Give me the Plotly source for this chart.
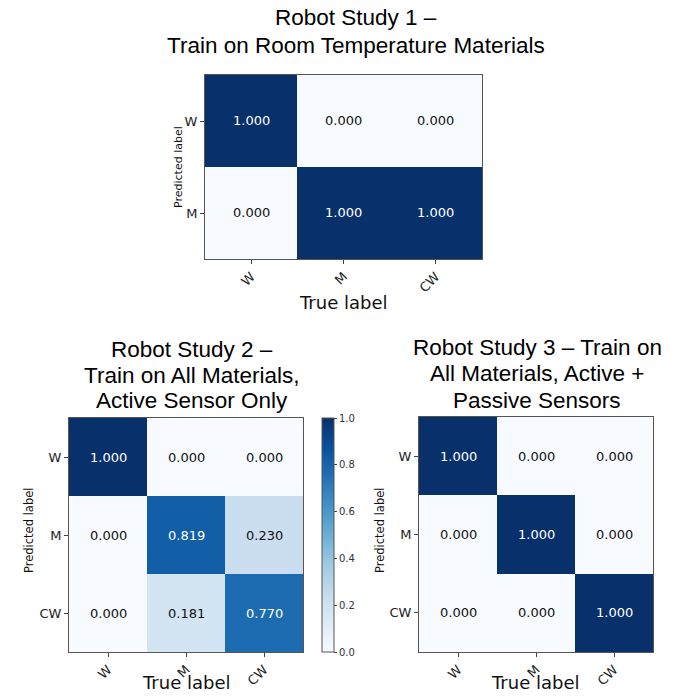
import plotly.graph_objects as go

# ---- data ----
true_labels = ["W", "M", "CW"]
pred_labels_1 = ["W", "M"]
pred_labels_23 = ["W", "M", "CW"]

study1_z = [[1.000, 0.000, 0.000],
            [0.000, 1.000, 1.000]]
study2_z = [[1.000, 0.000, 0.000],
            [0.000, 0.819, 0.230],
            [0.000, 0.181, 0.770]]
study3_z = [[1.000, 0.000, 0.000],
            [0.000, 1.000, 0.000],
            [0.000, 0.000, 1.000]]

title1_lines = ["Robot Study 1 –", "Train on Room Temperature Materials"]
title2_lines = ["Robot Study 2 –", "Train on All Materials,", "Active Sensor Only"]
title3_lines = ["Robot Study 3 – Train on", "All Materials, Active +", "Passive Sensors"]
cbar_ticks = [0.0, 0.2, 0.4, 0.6, 0.8, 1.0]

# ---- styling ----
W, H = 684, 696
blues = ["#f7fbff", "#deebf7", "#c6dbef", "#9ecae1", "#6baed6",
         "#4292c6", "#2171b5", "#08519c", "#08306b"]
cscale = [[i / (len(blues) - 1), c] for i, c in enumerate(blues)]
TFONT = "Liberation Sans, Arial, sans-serif"
DFONT = "DejaVu Sans, sans-serif"

def px(x):
    return x / W

def py(y):
    return 1 - y / H

fig = go.Figure()

panels = [
    # (z, ylabels, xaxis, yaxis, xdom px, ydom px, showscale)
    (study1_z, pred_labels_1, "x", "y", (205, 482), (75, 259), False),
    (study2_z, pred_labels_23, "x2", "y2", (69, 303), (418, 652), True),
    (study3_z, pred_labels_23, "x3", "y3", (419, 653), (417, 652), False),
]

annotations = []
for i, (z, ylab, xa, ya, xd, yd, show) in enumerate(panels):
    tr = go.Heatmap(
        z=z, x=true_labels, y=ylab, xaxis=xa, yaxis=ya,
        colorscale=cscale, zmin=0, zmax=1, showscale=show,
        hoverinfo="skip",
    )
    if show:
        tr.colorbar = dict(
            x=px(322), xanchor="left", xpad=0,
            y=py((418 + 652) / 2), yanchor="middle", ypad=0,
            lenmode="pixels", len=234,
            thicknessmode="pixels", thickness=12,
            tickvals=cbar_ticks, ticktext=[f"{v:.1f}" for v in cbar_ticks],
            ticks="outside", ticklen=3, tickcolor="#444",
            tickfont=dict(family=DFONT, size=10, color="#333"),
            outlinecolor="#555", outlinewidth=1,
        )
    fig.add_trace(tr)
    suffix = "" if i == 0 else str(i + 1)
    axis_common = dict(showline=True, mirror=True, linecolor="#555", linewidth=1,
                       ticks="outside", ticklen=4, tickcolor="#444",
                       showgrid=False, zeroline=False,
                       tickfont=dict(family=DFONT, size=13, color="#222"))
    fig.layout["xaxis" + suffix] = dict(domain=[px(xd[0]), px(xd[1])],
                                        anchor="y" + suffix, tickangle=-45,
                                        **axis_common)
    fig.layout["yaxis" + suffix] = dict(domain=[py(yd[1]), py(yd[0])],
                                        anchor="x" + suffix, autorange="reversed",
                                        **axis_common)
    # cell texts
    for r, row in enumerate(z):
        for c, v in enumerate(row):
            annotations.append(dict(
                x=true_labels[c], y=ylab[r], xref=xa, yref=ya,
                text=f"{v:.3f}", showarrow=False,
                font=dict(family=DFONT, size=13,
                          color="white" if v > 0.5 else "#111"),
            ))

# titles, one annotation per line
for lines, xc, ys in [(title1_lines, 356, [17.5, 45]),
                      (title2_lines, 192, [349.5, 375, 400.5]),
                      (title3_lines, 537, [347.5, 373.5, 400])]:
    for txt, yc in zip(lines, ys):
        annotations.append(dict(x=px(xc), y=py(yc), xref="paper", yref="paper",
                                text=txt, showarrow=False, xanchor="center",
                                yanchor="middle",
                                font=dict(family=TFONT, size=22.5, color="black")))

# axis titles
for xc, yc in [(343, 302), (186, 682), (535, 682)]:
    annotations.append(dict(x=px(xc), y=py(yc), xref="paper", yref="paper",
                            text="True label", showarrow=False,
                            xanchor="center", yanchor="middle",
                            font=dict(family=DFONT, size=18, color="#111")))
for xc, yc, s in [(179, 167, 11), (29, 531, 11.5), (380, 531, 11.5)]:
    annotations.append(dict(x=px(xc), y=py(yc), xref="paper", yref="paper",
                            text="Predicted label", showarrow=False,
                            textangle=-90, xanchor="center", yanchor="middle",
                            font=dict(family=DFONT, size=s, color="#111")))

fig.update_layout(width=W, height=H, margin=dict(l=0, r=0, t=0, b=0),
                  paper_bgcolor="white", plot_bgcolor="white",
                  annotations=annotations)

fig.write_html("out.html", config={"displayModeBar": False},
               post_script="document.body.style.margin='0';"
                           "document.body.style.overflow='hidden';")
